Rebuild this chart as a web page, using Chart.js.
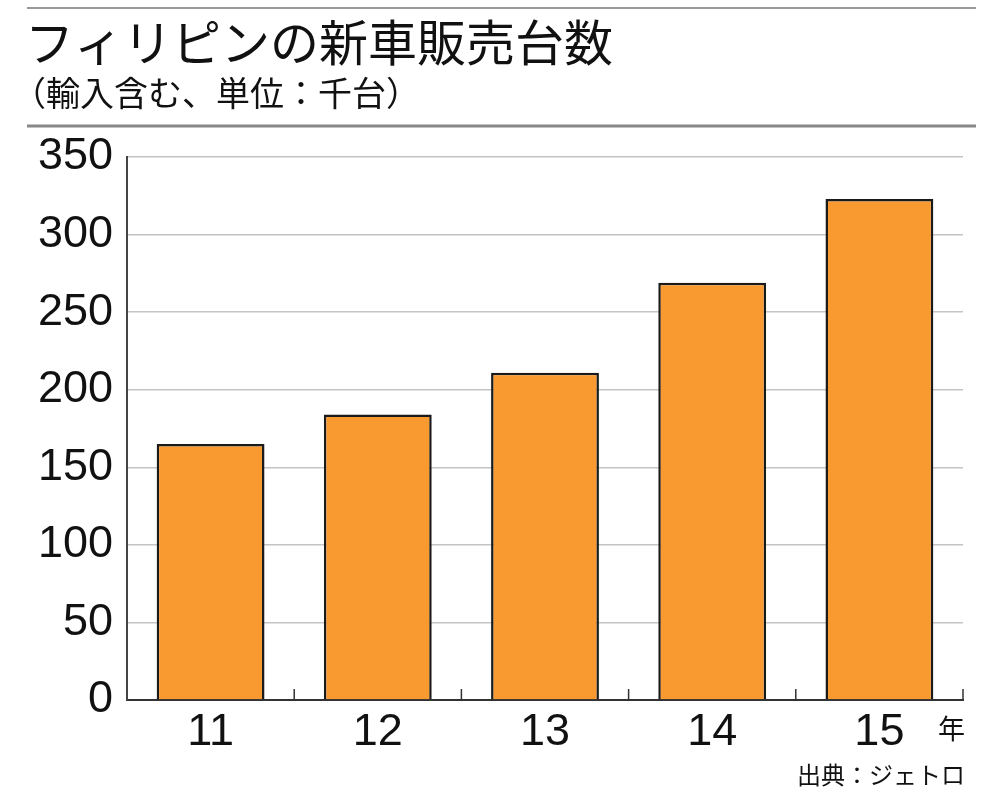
<!DOCTYPE html>
<html lang="ja">
<head>
<meta charset="utf-8">
<script src="https://cdn.jsdelivr.net/npm/chart.js@4/dist/chart.umd.min.js"></script>
<style>
  html, body { margin: 0; padding: 0; background: #fff; }
  #wrap { width: 991px; height: 800px; position: relative; }
</style>
</head>
<body>
<div id="wrap"><canvas id="chart"></canvas></div>
<script>
const years = ["11", "12", "13", "14", "15"];
const sales = [165, 184, 211, 269, 323];
const yTicks = [0, 50, 100, 150, 200, 250, 300, 350];

const titleText = "フィリピンの新車販売台数";
const subtitleText = "（輸入含む、単位：千台）";
const unitText = "年";
const sourceText = "出典：ジェトロ";

const jpFont = '"Noto Sans CJK JP", "Noto Sans", sans-serif';
const numFont = '"Liberation Sans", Arial, sans-serif';

const headerPlugin = {
  id: "header",
  beforeDraw(chart) {
    const ctx = chart.ctx;
    ctx.save();
    ctx.fillStyle = "#fff";
    ctx.fillRect(0, 0, chart.width, chart.height);

    ctx.strokeStyle = "#999";
    ctx.lineWidth = 2;
    ctx.beginPath();
    ctx.moveTo(27, 8);
    ctx.lineTo(976, 8);
    ctx.stroke();
    ctx.strokeStyle = "#888";
    ctx.lineWidth = 3;
    ctx.beginPath();
    ctx.moveTo(27, 126);
    ctx.lineTo(976, 126);
    ctx.stroke();

    ctx.fillStyle = "#111";
    ctx.textBaseline = "middle";
    ctx.textAlign = "left";
    ctx.font = "49px " + jpFont;
    ctx.fillText(titleText, 25, 42);
    ctx.font = "34px " + jpFont;
    ctx.fillText(subtitleText, 12, 93);
    ctx.restore();
  },
  afterDraw(chart) {
    const ctx = chart.ctx;
    const x = chart.scales.x;
    const area = chart.chartArea;
    ctx.save();
    // short inner ticks at category boundaries
    ctx.strokeStyle = "#333";
    ctx.lineWidth = 1.5;
    const step = (area.right - area.left) / years.length;
    for (let i = 1; i <= years.length; i++) {
      const px = x.left + step * i;
      ctx.beginPath();
      ctx.moveTo(px, area.bottom);
      ctx.lineTo(px, area.bottom - 11);
      ctx.stroke();
    }
    ctx.fillStyle = "#111";
    ctx.textAlign = "right";
    ctx.textBaseline = "middle";
    ctx.font = "27px " + jpFont;
    ctx.fillText(unitText, 965, 729);
    ctx.font = "24px " + jpFont;
    ctx.fillText(sourceText, 965, 775);
    ctx.restore();
  }
};

new Chart(document.getElementById("chart"), {
  type: "bar",
  data: {
    labels: years,
    datasets: [
      {
        data: sales,
        backgroundColor: "#F99A30",
        borderColor: "#1a1a1a",
        borderWidth: 2.5,
        barPercentage: 0.645,
        categoryPercentage: 1,
      },
    ],
  },
  options: {
    responsive: true,
    maintainAspectRatio: false,
    animation: false,
    layout: { padding: { top: 157, right: 28, bottom: 0, left: 0 } },
    plugins: {
      legend: { display: false },
      tooltip: { enabled: false },
    },
    scales: {
      x: {
        grid: { display: false, drawTicks: false },
        border: { display: true, color: "#333", width: 2 },
        ticks: {
          color: "#111",
          font: { family: numFont, size: 45 },
          padding: 6,
        },
        afterFit(scale) { scale.height = 100; },
      },
      y: {
        min: 0,
        max: 350,
        afterBuildTicks(scale) {
          scale.ticks = yTicks.map((v) => ({ value: v }));
        },
        grid: { color: "#c4c4c4", lineWidth: 1.5, drawTicks: false },
        border: { display: true, color: "#444", width: 2 },
        ticks: {
          color: "#111",
          font: { family: numFont, size: 45 },
          padding: 14,
        },
        afterFit(scale) { scale.width = 127; },
      },
    },
  },
  plugins: [headerPlugin],
});
</script>
</body>
</html>
